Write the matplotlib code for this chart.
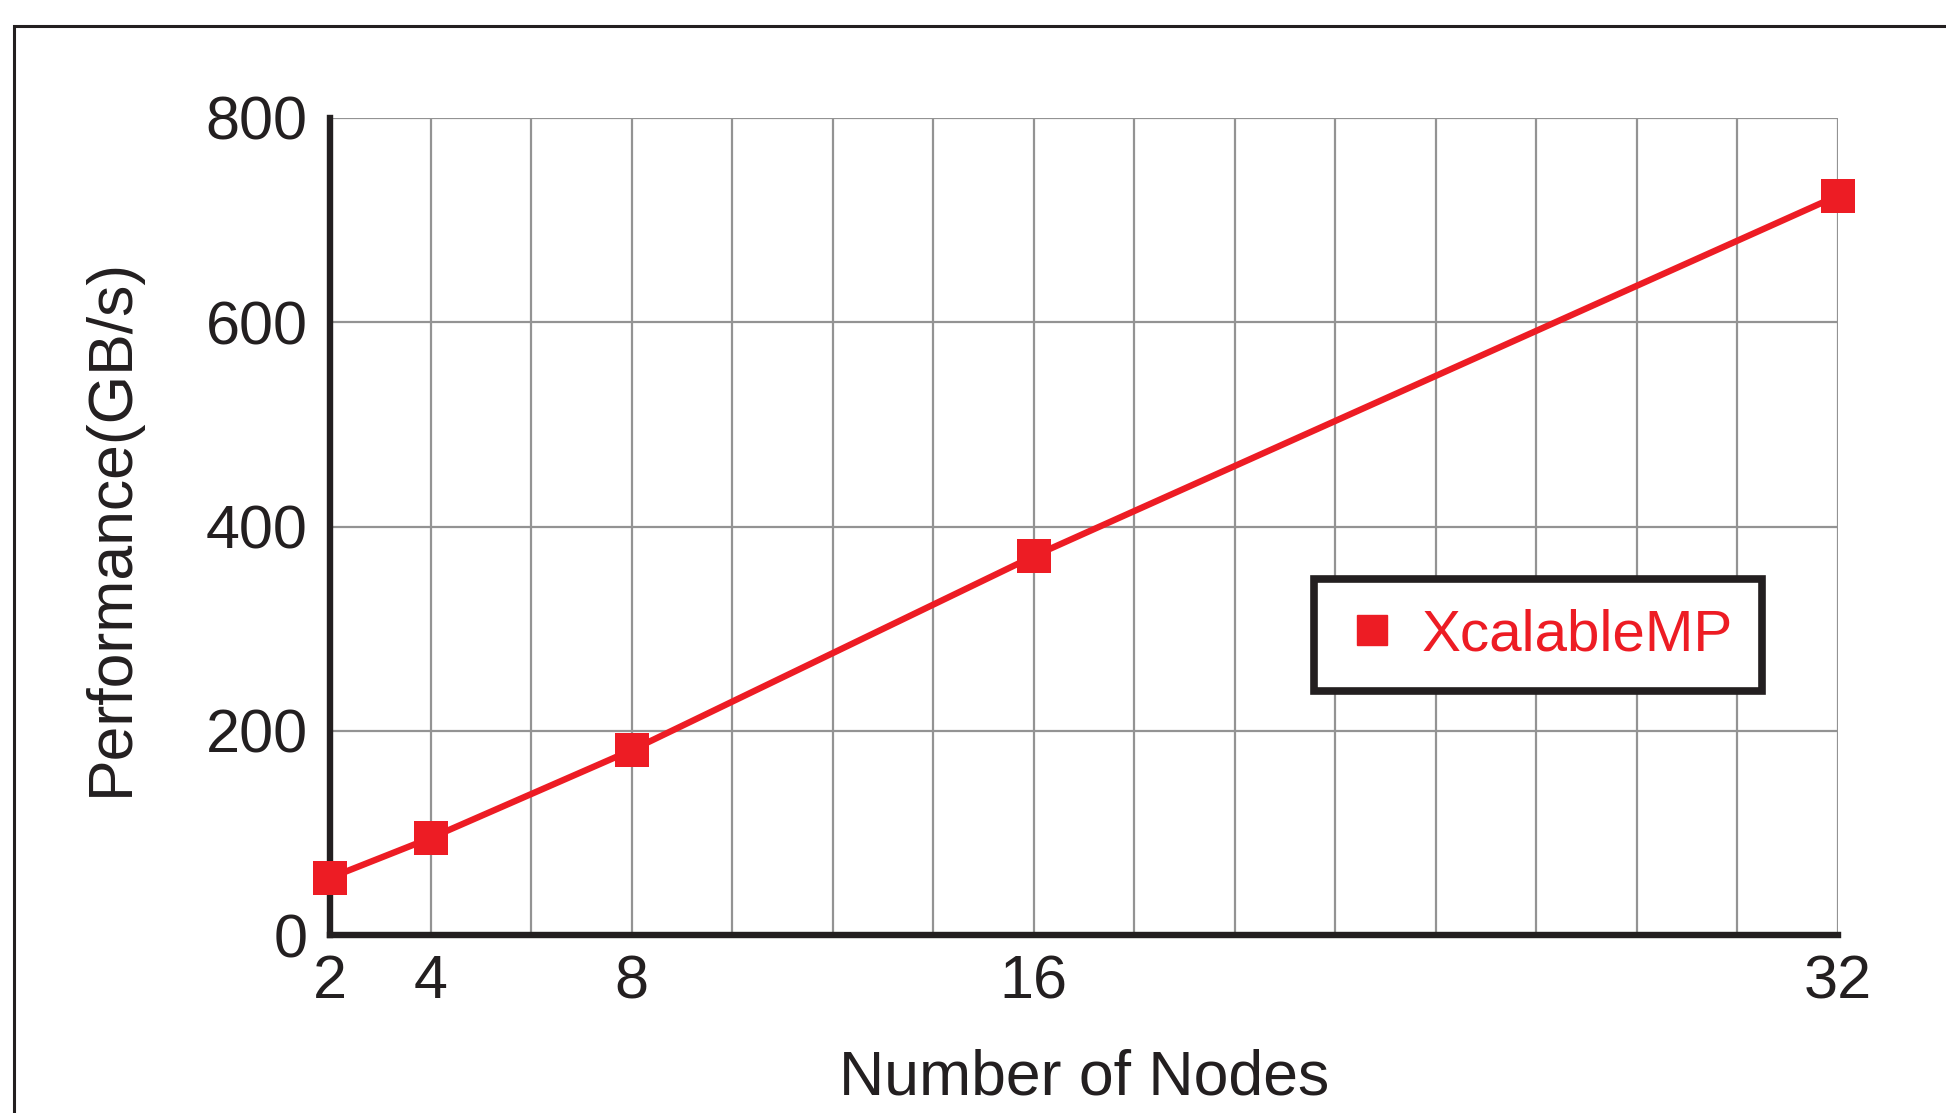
import matplotlib
matplotlib.use('Agg')
import matplotlib.pyplot as plt
from matplotlib.patches import Rectangle
from matplotlib.lines import Line2D

# Data
nodes = [2, 4, 8, 16, 32]
perf = [56, 95, 181, 371, 724]
series_name = 'XcalableMP'
x_tick_labels = ['2', '4', '8', '16', '32']
y_ticks = [0, 200, 400, 600, 800]

RED = '#ed1c24'
DARK = '#231f20'
GRID = '#939393'

plt.rcParams['font.family'] = ['Liberation Sans', 'DejaVu Sans']

fig = plt.figure(figsize=(19.46, 11.13), dpi=100)
ax = fig.add_axes([0.1696, 0.1599, 0.7749, 0.7341])

# outer frame of the original figure (cut off at right/bottom)
fig.patches.append(Rectangle((14 / 1946, -0.2), 1.2, 1 - 26 / 1113 + 0.2,
                             transform=fig.transFigure, fill=False,
                             edgecolor=DARK, linewidth=2.2))

ax.plot(nodes, perf, color=RED, linewidth=4.6, marker='s', markersize=25,
        markeredgewidth=0, zorder=5, clip_on=False)

ax.set_xlim(2, 32)
ax.set_ylim(0, 800)

# grid every 2 nodes, labels only at the measured node counts
grid_x = list(range(2, 33, 2))
ax.set_xticks(grid_x)
ax.set_xticklabels([str(v) if str(v) in x_tick_labels else '' for v in grid_x])
ax.set_yticks(y_ticks)
ax.set_yticklabels([str(v) for v in y_ticks])
ax.grid(True, color=GRID, linewidth=1.6, zorder=1)
ax.set_axisbelow(True)

ax.tick_params(axis='both', length=0, labelsize=44, colors=DARK)
ax.tick_params(axis='x', pad=14)
ax.tick_params(axis='y', pad=16)

for s in ['top', 'right']:
    ax.spines[s].set_visible(False)
for s in ['left', 'bottom']:
    ax.spines[s].set_color(DARK)
    ax.spines[s].set_linewidth(4.6)
    ax.spines[s].set_zorder(4)

ax.set_xlabel('Number of Nodes', fontsize=45, color=DARK, labelpad=27)
ax.set_ylabel('Performance(GB/s)', fontsize=45, color=DARK, labelpad=47)

handle = Line2D([], [], color=RED, marker='s', markersize=21, linestyle='none')
leg = ax.legend([handle], [series_name], loc='center', bbox_to_anchor=(0.801, 0.367),
                fontsize=42, labelcolor=RED, frameon=True, fancybox=False,
                handlelength=1.0, handletextpad=0.35, borderpad=0.5,
                borderaxespad=0)
leg.get_frame().set_edgecolor(DARK)
leg.get_frame().set_linewidth(5.5)
leg.get_frame().set_facecolor('white')
leg.get_frame().set_alpha(1)
leg.set_zorder(6)

fig.savefig('out.png', dpi=100)
